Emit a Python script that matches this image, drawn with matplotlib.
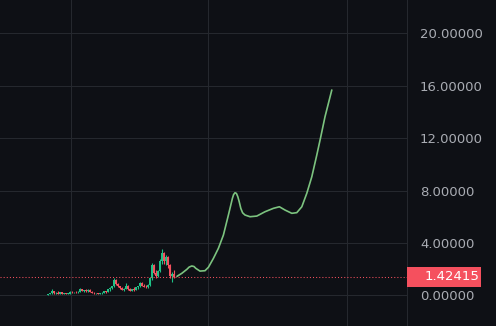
import matplotlib.pyplot as plt
import matplotlib.transforms as mtransforms
from matplotlib.patches import Rectangle

# candles, one per day (day index)
opens  = [0.05, 0.10, 0.15, 0.30, 0.15, 0.20, 0.12, 0.22, 0.10, 0.12, 0.10, 0.12, 0.25, 0.22, 0.26, 0.22,
          0.28, 0.45, 0.35, 0.38, 0.32, 0.42, 0.28, 0.18, 0.15, 0.16, 0.14, 0.15, 0.20, 0.30, 0.25, 0.45,
          0.55, 0.70, 1.20, 0.90, 0.70, 0.55, 0.42, 0.50, 0.75, 0.45, 0.35, 0.45, 0.40, 0.60, 0.70, 0.95,
          0.75, 0.65, 0.60, 0.80, 1.30, 2.35, 1.70, 1.45, 1.85, 2.60, 3.20, 2.60, 2.90, 2.30, 1.45, 1.60]
highs  = [0.12, 0.18, 0.45, 0.35, 0.25, 0.30, 0.28, 0.25, 0.15, 0.16, 0.15, 0.30, 0.32, 0.28, 0.30, 0.30,
          0.55, 0.50, 0.42, 0.45, 0.50, 0.45, 0.32, 0.22, 0.20, 0.20, 0.18, 0.22, 0.35, 0.32, 0.50, 0.60,
          0.75, 1.30, 1.25, 0.95, 0.75, 0.60, 0.55, 0.95, 0.80, 0.55, 0.50, 0.60, 0.65, 0.75, 1.00, 1.00,
          0.85, 0.80, 0.85, 1.40, 2.50, 2.40, 1.90, 1.95, 2.80, 3.55, 3.30, 3.10, 3.00, 2.40, 1.75, 1.90]
lows   = [0.03, 0.08, 0.12, 0.10, 0.10, 0.10, 0.10, 0.08, 0.08, 0.08, 0.08, 0.10, 0.18, 0.15, 0.20, 0.18,
          0.25, 0.30, 0.28, 0.28, 0.28, 0.25, 0.15, 0.12, 0.12, 0.12, 0.10, 0.12, 0.15, 0.20, 0.22, 0.35,
          0.45, 0.65, 0.80, 0.65, 0.50, 0.38, 0.35, 0.45, 0.40, 0.30, 0.30, 0.35, 0.38, 0.50, 0.65, 0.70,
          0.60, 0.55, 0.55, 0.75, 1.20, 1.60, 1.30, 1.40, 1.80, 2.40, 2.40, 2.30, 2.10, 1.30, 1.00, 1.30]
closes = [0.10, 0.15, 0.30, 0.15, 0.20, 0.12, 0.22, 0.10, 0.12, 0.10, 0.12, 0.25, 0.22, 0.26, 0.22, 0.28,
          0.45, 0.35, 0.38, 0.32, 0.42, 0.28, 0.18, 0.15, 0.16, 0.14, 0.15, 0.20, 0.30, 0.25, 0.45, 0.55,
          0.70, 1.20, 0.90, 0.70, 0.55, 0.42, 0.50, 0.75, 0.45, 0.35, 0.45, 0.40, 0.60, 0.70, 0.95, 0.75,
          0.65, 0.60, 0.80, 1.30, 2.35, 1.70, 1.45, 1.85, 2.60, 3.20, 2.60, 2.90, 2.30, 1.45, 1.60, 1.42415]

# projected path
proj_days = [64.5, 66.9, 69.4, 70.6, 71.9, 73.0, 73.9, 76.0, 78.5, 80.2, 82.7, 85.2, 87.7, 90.2, 92.2,
             92.8, 93.5, 94.2, 94.9, 95.6, 96.4, 97.3, 98.5, 101.0, 104.4, 108.5, 112.7, 115.7, 118.5,
             121.9, 124.4, 126.9, 129.4, 131.9, 134.4, 136.4, 138.5, 141.9]
proj_vals = [1.45, 1.68, 1.98, 2.16, 2.24, 2.20, 2.06, 1.85, 1.88, 2.14, 2.82, 3.59, 4.60, 6.13, 7.40,
             7.69, 7.83, 7.78, 7.53, 7.15, 6.64, 6.30, 6.13, 6.00, 6.05, 6.38, 6.64, 6.76, 6.51,
             6.26, 6.31, 6.76, 7.79, 9.05, 10.71, 12.11, 13.63, 15.67]

last_price = 1.42415
y_ticks = [0, 4, 8, 12, 16, 20]
x_grid = [11.65, 80.15, 149.35]

bg = '#0e1015'
grid_col = '#25282e'
up_col = '#1ec186'
down_col = '#f5505e'

fig = plt.figure(figsize=(4.96, 3.26), dpi=100, facecolor=bg)
ax = fig.add_axes([0, 0, 407 / 496, 1])
ax.set_facecolor(bg)

for i in range(len(opens)):
    col = up_col if closes[i] >= opens[i] else down_col
    ax.vlines(i, lows[i], highs[i], color=col, linewidth=0.8)
    lo = min(opens[i], closes[i])
    h = max(abs(closes[i] - opens[i]), 0.06)
    ax.bar(i, h, bottom=lo, width=1.0, color=col, linewidth=0)

ax.plot(proj_days, proj_vals, color='#7cc37f', linewidth=1.2, solid_capstyle='round',
        solid_joinstyle='round')
ax.axhline(last_price, color=down_col, linewidth=0.75, linestyle=(0, (1, 2)))

ax.set_xlim(-24, 179.5)
ax.set_ylim(-2.34, 22.54)
ax.set_xticks(x_grid)
ax.set_xticklabels([])
ax.tick_params(axis='x', length=0)
ax.yaxis.tick_right()
ax.set_yticks(y_ticks)
ax.set_yticklabels(['%.5f' % v for v in y_ticks])
ax.tick_params(axis='y', length=0, pad=9.4, labelsize=9.5, labelcolor='#a9acb3')
ax.grid(True, color=grid_col, linewidth=0.75)
ax.set_axisbelow(True)
for s in ['top', 'left', 'bottom']:
    ax.spines[s].set_visible(False)
ax.spines['right'].set_color(grid_col)
ax.spines['right'].set_linewidth(0.75)

# last price label
trans = mtransforms.blended_transform_factory(fig.transFigure, ax.transData)
box_h = 20 / 13.1
ax.add_patch(Rectangle((407 / 496, last_price - box_h / 2), 74 / 496, box_h, transform=trans,
                       facecolor=down_col, edgecolor='none', clip_on=False, zorder=5))
ax.text(425 / 496, last_price, '%.5f' % last_price, transform=trans, color='white',
        fontsize=9.5, va='center', ha='left', zorder=6, clip_on=False)

fig.savefig('out.png', dpi=100, facecolor=bg)
